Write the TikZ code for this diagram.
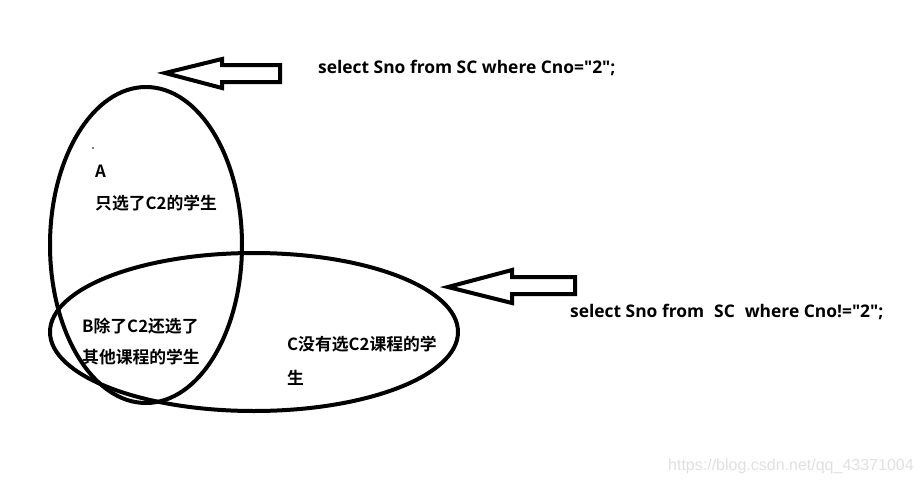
\documentclass[tikz,border=0pt]{standalone}
\usepackage{fontspec}
\newfontfamily\cjkfont{Noto Sans CJK SC}[BoldFont={Noto Sans CJK SC Bold}]
\newfontfamily\sqlfont{Open Sans}[BoldFont={Open Sans Bold}]
\newfontfamily\wmfont{Liberation Sans}
\begin{document}
\begin{tikzpicture}[x=1pt,y=-1pt,
  shape outline/.style={line width=4pt, draw=black},
  lbl/.style={anchor=west, inner sep=0pt, font=\cjkfont\bfseries\fontsize{16.8}{19}\selectfont},
  sql/.style={anchor=west, inner sep=0pt, font=\sqlfont\bfseries\fontsize{17.4}{20}\selectfont},
  blockarrow/.style={line width=4pt, draw=black, line join=miter}]
\useasboundingbox (0,0) rectangle (922,485);
% ellipses
\draw[shape outline] (146,245) ellipse [x radius=96, y radius=158];
\draw[shape outline] (254,332) ellipse [x radius=204, y radius=79];
% block arrow 1
\coordinate (t1) at (165,73);
\draw[blockarrow] (t1) -- (222,59) -- (222,65) -- (280,65) -- (280,82) -- (222,82) -- (222,88) -- cycle;
% block arrow 2
\coordinate (t2) at (448,287);
\draw[blockarrow] (t2) -- (512,270) -- (512,277) -- (575,277) -- (575,294) -- (512,294) -- (512,303) -- cycle;
% texts
\node[sql] (q1) at (318,68) {select Sno from SC where Cno="2";};
\node[sql] (q2) at (570,312) {select Sno from\hspace{10pt}SC\hspace{10pt}where Cno!="2";};
\fill (93,148) circle [radius=0.8];
\node[lbl] (a1) at (95,171) {A};
\node[lbl] (a2) at (95,203) {只选了C2的学生};
\node[lbl] (b1) at (82,326) {B除了C2还选了};
\node[lbl] (b2) at (82,357) {其他课程的学生};
\node[lbl] (c1) at (287,344) {C没有选C2课程的学};
\node[lbl] (c2) at (287,378) {生};
\node[anchor=west, inner sep=0pt, text=black!12, font=\wmfont\fontsize{16}{18}\selectfont] (wm) at (668,466) {https://blog.csdn.net/qq\_43371004};
\end{tikzpicture}
\end{document}
